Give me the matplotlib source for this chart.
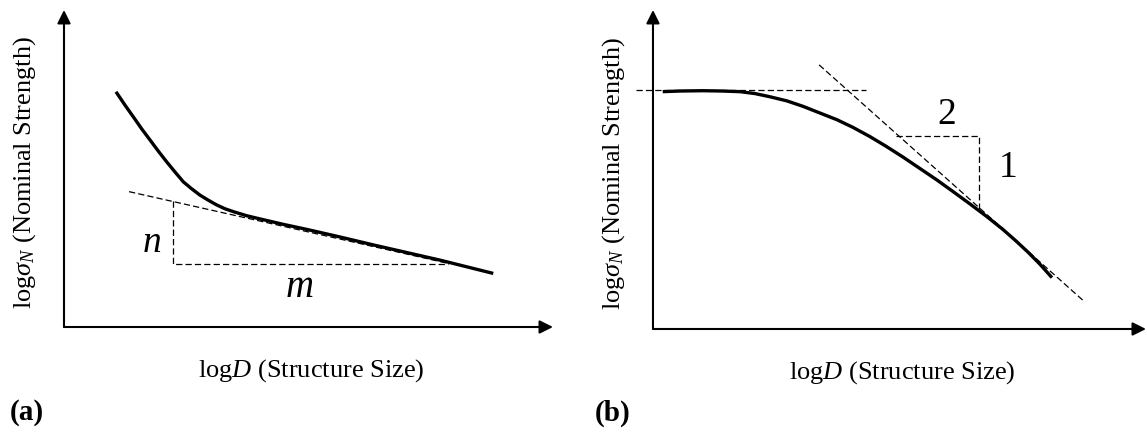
import matplotlib
matplotlib.use('Agg')
import matplotlib.pyplot as plt

plt.rcParams['font.family'] = ['Liberation Serif', 'DejaVu Serif']
plt.rcParams['mathtext.fontset'] = 'custom'
plt.rcParams['mathtext.rm'] = 'Liberation Serif'
plt.rcParams['mathtext.it'] = 'Liberation Serif:italic'
plt.rcParams['mathtext.bf'] = 'Liberation Serif:bold'

# panel (a): size effect curve, axis units 0..10
a_x = [1.063, 1.247, 1.417, 1.589, 1.759, 1.928, 2.100, 2.270, 2.440, 2.611,
       2.781, 2.951, 3.123, 3.292, 3.462, 3.736, 4.008, 4.479, 4.963, 5.644,
       6.325, 7.689, 8.779]
a_y = [7.42, 7.00, 6.63, 6.25, 5.90, 5.55, 5.21, 4.89, 4.58, 4.36,
       4.16, 4.00, 3.85, 3.73, 3.64, 3.51, 3.41, 3.24, 3.08, 2.84,
       2.59, 2.11, 1.69]
a_tan_x = [1.33, 7.85]
a_tan_y = [4.27, 2.01]
a_tri_x = [2.235, 2.235, 7.85]
a_tri_y = [3.98, 2.00, 2.00]
a_n_pos = (1.80, 2.65)
a_m_pos = (4.81, 1.26)

# panel (b): size effect law curve
b_x = [0.197, 0.548, 1.014, 1.400, 1.765, 2.069, 2.373, 2.718, 3.043, 3.387,
       3.732, 4.057, 4.402, 4.726, 5.071, 5.416, 5.761, 6.085, 6.430, 6.775,
       7.099, 7.363, 7.606, 7.850, 8.093]
b_y = [7.44, 7.46, 7.47, 7.46, 7.44, 7.38, 7.28, 7.15, 6.98, 6.77,
       6.56, 6.32, 6.03, 5.73, 5.39, 5.03, 4.67, 4.31, 3.92, 3.52,
       3.12, 2.76, 2.41, 2.03, 1.61]
b_flat_x = [-0.34, 4.32]
b_flat_y = [7.49, 7.49]
b_tan_x = [3.37, 8.75]
b_tan_y = [8.28, 0.86]
b_tri_x = [4.93, 6.61, 6.61]
b_tri_y = [6.05, 6.05, 3.71]
b_2_pos = (5.96, 6.71)
b_1_pos = (7.20, 5.05)

xlabel = r'log$D$ (Structure Size)'
ylabel = r'log$\sigma_N$ (Nominal Strength)'
dash = (0, (5, 2.5))


def setup_axes(ax):
    ax.set_xlim(0, 10)
    ax.set_ylim(0, 10)
    for s in ax.spines.values():
        s.set_visible(False)
    ax.set_xticks([])
    ax.set_yticks([])
    ax.patch.set_alpha(0)
    arrow = dict(arrowstyle='-|>', lw=1.5, color='black', mutation_scale=20,
                 shrinkA=0, shrinkB=0)
    ax.annotate('', xy=(1, 0), xytext=(0, 0), xycoords='axes fraction',
                arrowprops=arrow, annotation_clip=False)
    ax.annotate('', xy=(0, 1), xytext=(0, 0), xycoords='axes fraction',
                arrowprops=arrow, annotation_clip=False)
    ax.text(0.505, -0.136, xlabel, transform=ax.transAxes, fontsize=19,
            ha='center', va='center')
    ax.text(-0.080, 0.488, ylabel, transform=ax.transAxes, fontsize=19,
            ha='center', va='center', rotation=90)


fig = plt.figure(figsize=(11.47, 4.33), dpi=100)

# (a)
ax1 = fig.add_axes([0.0558, 0.2448, 0.4263, 0.7321])
setup_axes(ax1)
ax1.plot(a_tan_x, a_tan_y, color='black', lw=0.9, linestyle=dash)
ax1.plot(a_tri_x, a_tri_y, color='black', lw=0.9, linestyle=dash)
ax1.plot(a_x, a_y, color='black', lw=2.4, solid_capstyle='butt', solid_joinstyle='round')
ax1.text(a_n_pos[0], a_n_pos[1], 'n', fontsize=27, style='italic', ha='center', va='center')
ax1.text(a_m_pos[0], a_m_pos[1], 'm', fontsize=28, style='italic', ha='center', va='center')

# (b)
ax2 = fig.add_axes([0.5693, 0.2402, 0.4298, 0.7367])
setup_axes(ax2)
ax2.plot(b_flat_x, b_flat_y, color='black', lw=0.9, linestyle=dash, clip_on=False)
ax2.plot(b_tan_x, b_tan_y, color='black', lw=0.9, linestyle=dash)
ax2.plot(b_tri_x, b_tri_y, color='black', lw=0.9, linestyle=dash)
ax2.plot(b_x, b_y, color='black', lw=2.4, solid_capstyle='butt', solid_joinstyle='round')
ax2.text(b_2_pos[0], b_2_pos[1], '2', fontsize=27, ha='center', va='center')
ax2.text(b_1_pos[0], b_1_pos[1], '1', fontsize=27, ha='center', va='center')

fig.text(10 / 1147, 1 - 413 / 433, '(a)', fontsize=21, fontweight='bold', ha='left', va='center')
fig.text(595 / 1147, 1 - 413 / 433, '(b)', fontsize=21, fontweight='bold', ha='left', va='center')

plt.savefig('out.png', dpi=100)
